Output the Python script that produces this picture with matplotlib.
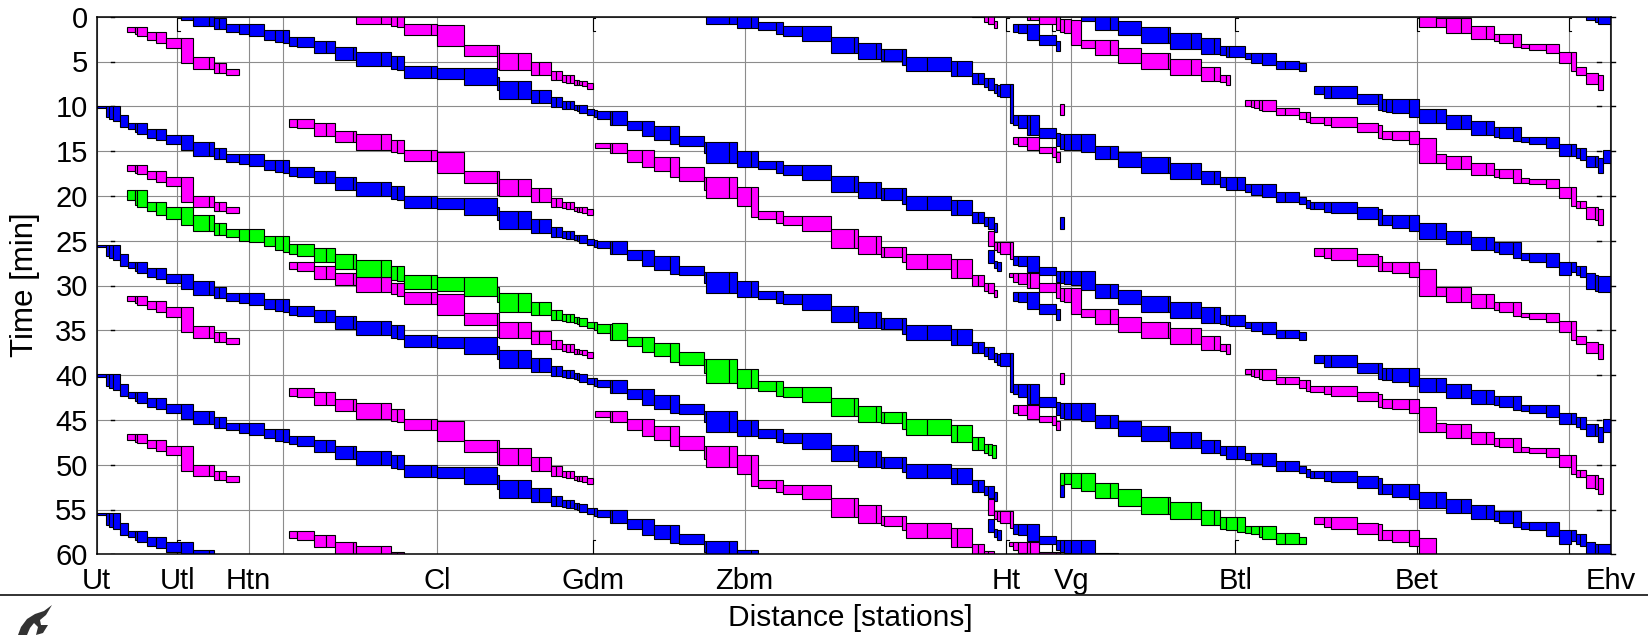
import numpy as np
import matplotlib
matplotlib.use("Agg")
import matplotlib.pyplot as plt
from matplotlib.lines import Line2D
from matplotlib.patches import Polygon

plt.rcParams['font.family'] = ['Liberation Sans', 'DejaVu Sans']

BLUE = '#0000ff'
MAGENTA = '#ff00ff'
GREEN = '#00ff00'

# distance along the line, every block is (right edge, occupied from, occupied until) in minutes
station_names = ['Ut', 'Utl', 'Htn', 'Cl', 'Gdm', 'Zbm', 'Ht', 'Vg', 'Btl', 'Bet', 'Ehv']
station_pos = [0, 80.7, 151.8, 340.4, 496, 647.9, 909.3, 974.6, 1138.6, 1320, 1514.3]
other_lines = [186.4, 955.7, 1472, 1512.9]
time_ticks = [0, 5, 10, 15, 20, 25, 30, 35, 40, 45, 50, 55, 60]

# intercity Ut - Ht - Ehv
ic_blocks = [
    (9.6, 9.93, 10.16), (12.1, 9.93, 11.23), (16.1, 9.93, 11.46), (23.2, 9.93, 11.68),
    (31.1, 11.01, 12.35), (38.2, 11.9, 12.54), (40.7, 11.9, 12.91), (50, 11.9, 13.13),
    (59.6, 12.54, 13.58), (69.3, 12.54, 13.8), (84.6, 13.17, 14.25), (96.1, 13.17, 14.88),
    (111.8, 14.02, 15.51), (117.5, 14.02, 15.51), (121.8, 14.69, 15.92), (128.9, 14.69, 15.92),
    (142.1, 15.33, 16.18), (151.8, 15.33, 16.41), (167.5, 15.33, 16.63), (178.6, 15.96, 17.07),
    (186.4, 15.96, 17.3), (191.8, 15.96, 17.48), (200, 16.81, 17.74), (217.1, 16.81, 17.86),
    (228.9, 17.26, 18.56), (238.6, 17.26, 18.56), (256.1, 17.89, 19.38), (259.6, 17.89, 19.38),
    (284.6, 18.49, 20.05), (293.9, 18.49, 20.05), (300.4, 18.93, 20.39), (307.5, 18.93, 20.46),
    (334.6, 20.05, 21.32), (340.4, 20.05, 21.32), (367.1, 20.27, 21.5), (400.4, 20.27, 22.17),
    (401.8, 21.2, 22.7), (421.1, 21.72, 23.7), (434.6, 21.72, 23.7), (441.8, 22.63, 24.12),
    (453.9, 22.63, 24.12), (459.5, 23.45, 24.61), (465.2, 23.45, 24.61), (468.9, 23.94, 24.75),
    (473.2, 23.94, 24.79), (477.2, 23.94, 24.79), (480.5, 24.31, 24.94), (482.5, 24.31, 25.05),
    (490.2, 24.38, 25.24), (497.2, 24.79, 25.5), (499.9, 24.87, 25.72), (513.2, 25.01, 25.87),
    (515.7, 25.05, 26.54), (530.7, 25.05, 26.54), (545.7, 26.09, 27.17), (557.5, 26.09, 27.84),
    (572.9, 26.73, 28.29), (582.5, 26.73, 28.7), (607.5, 27.77, 28.88), (609.6, 28.47, 29.7),
    (631.8, 28.47, 30.82), (640, 28.47, 30.82), (653.9, 29.52, 31.3), (661.1, 29.52, 31.3),
    (679, 30.56, 31.49), (686.1, 30.56, 31.93), (705.7, 31.0, 32.12), (734.3, 31.0, 32.75),
    (756.8, 32.31, 34.09), (761.1, 32.31, 34.09), (779, 32.94, 34.72), (784.3, 32.94, 34.72),
    (787.5, 33.61, 34.91), (805.7, 33.61, 34.91), (809.6, 33.61, 35.36), (830.7, 34.46, 36.03),
    (853.9, 34.46, 36.03), (859.9, 34.91, 36.66), (874.9, 34.91, 36.66), (881.5, 36.25, 37.55),
    (887.5, 36.25, 37.55), (891.5, 36.88, 37.89), (897.5, 36.88, 38.18), (899.9, 37.51, 38.56),
    (903.2, 37.63, 38.85), (913.2, 37.51, 38.93), (916.5, 37.51, 41.9), (920.9, 40.97, 42.09),
    (930.2, 40.97, 42.39), (933.2, 40.97, 43.2), (942.2, 40.97, 43.2), (958.9, 42.46, 43.58),
    (963.2, 43.0, 44.4), (966.8, 43.13, 44.77), (974.6, 43.13, 44.88), (983.9, 43.13, 44.88),
    (997.9, 43.13, 45.07), (1012.9, 44.43, 45.92), (1021.1, 44.43, 45.92), (1044.3, 45.07, 46.81),
    (1071.1, 45.7, 47.41), (1073.2, 45.7, 47.41), (1093.9, 46.37, 48.12), (1103.9, 46.37, 48.12),
    (1117.1, 47.22, 48.71), (1122.9, 47.22, 48.71), (1129, 47.86, 48.97), (1140.4, 47.86, 49.34),
    (1148.6, 47.86, 49.34), (1153.9, 48.71, 49.53), (1165.4, 48.71, 49.9), (1179.3, 48.71, 50.09),
    (1188.6, 49.6, 50.72), (1202.1, 49.6, 50.72), (1209.6, 50.09, 50.91), (1213.6, 50.46, 51.32),
    (1217.5, 50.65, 51.5), (1226.8, 50.65, 51.5), (1234.6, 50.65, 51.84), (1260, 50.65, 51.95),
    (1281.1, 51.28, 52.62), (1285.4, 51.5, 53.25), (1295, 52.13, 53.25), (1312.1, 52.13, 53.55),
    (1322.1, 52.13, 53.88), (1338.9, 53.06, 54.78), (1348.9, 53.06, 54.78), (1363.9, 53.88, 55.41),
    (1374.3, 53.88, 55.41), (1389, 54.55, 56.04), (1397.1, 54.55, 56.04), (1402.5, 55.18, 56.23),
    (1416.4, 55.18, 56.52), (1424.3, 55.18, 56.9), (1431.8, 56.41, 57.16), (1448.9, 56.41, 57.34),
    (1462.5, 56.41, 57.97), (1474.3, 57.34, 58.83), (1479.6, 57.34, 58.46), (1483.6, 57.79, 58.83),
    (1489.6, 57.79, 59.09), (1498.5, 58.64, 60.39), (1501.4, 58.83, 60.58), (1514.3, 58.9, 60.76),
]

# the green one running Ut - Ht
green_long_blocks = [
    (38.2, 19.34, 20.46), (40.7, 19.34, 21.06), (50, 19.34, 21.28), (59.6, 20.65, 21.72),
    (69.3, 20.65, 22.17), (84.6, 21.28, 22.62), (96.1, 21.28, 23.25), (111.8, 22.13, 23.92),
    (117.5, 22.13, 23.92), (121.8, 23.03, 24.33), (128.9, 23.03, 24.33), (142.1, 23.66, 24.55),
    (151.8, 23.66, 25.0), (167.5, 23.66, 25.18), (178.6, 24.51, 25.63), (186.4, 24.51, 26.08),
    (191.8, 24.51, 26.23), (200, 25.41, 26.49), (217.1, 25.41, 26.71), (228.9, 25.85, 27.34),
    (238.6, 25.85, 27.34), (256.1, 26.49, 28.2), (259.6, 26.49, 28.2), (284.6, 27.12, 29.09),
    (293.9, 27.12, 29.09), (300.4, 27.79, 29.39), (307.5, 27.79, 29.5), (334.6, 28.87, 30.36),
    (340.4, 28.87, 30.36), (367.1, 29.09, 30.58), (400.4, 29.09, 31.17), (401.8, 30.13, 31.8),
    (421.1, 30.8, 32.92), (434.6, 30.8, 32.92), (441.8, 31.88, 33.29), (453.9, 31.88, 33.29),
    (459.5, 32.7, 33.86), (465.2, 32.7, 33.86), (468.9, 33.19, 34.0), (473.2, 33.19, 34.04),
    (477.2, 33.19, 34.04), (480.5, 33.56, 34.19), (482.5, 33.56, 34.3), (490.2, 33.63, 34.49),
    (497.2, 34.04, 34.75), (499.9, 34.12, 34.97), (513.2, 34.3, 35.27), (515.7, 34.3, 36.08),
    (530.7, 34.22, 36.08), (545.7, 35.71, 36.75), (557.5, 35.71, 37.39), (572.9, 36.38, 37.87),
    (582.5, 36.38, 38.5), (607.5, 37.46, 38.87), (609.6, 38.24, 39.8), (631.8, 38.24, 40.84),
    (640, 38.24, 40.84), (653.9, 39.36, 41.48), (661.1, 39.36, 41.48), (679, 40.66, 41.74),
    (686.1, 40.66, 42.34), (705.7, 41.29, 42.41), (734.3, 41.29, 43.04), (756.8, 42.59, 44.53),
    (761.1, 42.59, 44.53), (779, 43.45, 45.2), (784.3, 43.45, 45.2), (787.5, 44.08, 45.38),
    (805.7, 44.08, 45.38), (809.6, 44.08, 46.05), (830.7, 44.94, 46.68), (853.9, 44.94, 46.68),
    (860, 45.57, 47.51), (875, 45.57, 47.51), (881.5, 46.87, 48.36), (887.5, 46.87, 48.36),
    (891.5, 47.73, 48.73), (895.5, 47.73, 48.92), (899.6, 47.8, 49.22),
]

# green Vg - Btl
green_vg_blocks = [
    (974.6, 50.96, 52.15), (983.9, 50.96, 52.64), (997.9, 50.96, 52.9), (1012.9, 52.08, 53.75),
    (1021.1, 52.08, 53.75), (1044.3, 52.71, 54.6), (1071.1, 53.57, 55.5), (1073.2, 53.57, 55.5),
    (1093.9, 54.2, 56.1), (1103.9, 54.2, 56.1), (1117.1, 55.05, 56.72), (1122.9, 55.05, 56.72),
    (1129, 55.87, 57.17), (1140.4, 55.87, 57.28), (1148.6, 55.87, 57.47), (1153.9, 56.8, 57.66),
    (1161.8, 56.8, 57.77), (1165.4, 56.8, 58.03), (1179.3, 56.8, 58.29), (1188.6, 57.66, 58.88),
    (1202.1, 57.66, 58.88), (1209.6, 58.1, 58.88),
]
vg_stub_green = [(966.8, 50.96, 52.3)]

# magenta Ut - Htn
mag_utl_blocks = [
    (38.2, 1.12, 1.75), (40.7, 1.12, 1.97), (50, 1.12, 2.16), (59.6, 1.75, 2.64),
    (69.3, 1.75, 2.98), (84.6, 2.42, 3.46), (96.1, 2.42, 5.21), (111.8, 4.54, 5.84),
    (117.5, 4.54, 5.84), (121.8, 5.21, 6.29), (128.9, 5.21, 6.29), (142.1, 5.84, 6.51),
]

# magenta Cl - Gdm
mag_cl_blocks = [
    (200, 11.46, 12.28), (217.1, 11.46, 12.46), (228.9, 11.9, 13.32), (238.6, 11.9, 13.32),
    (256.1, 12.72, 14.02), (259.6, 12.72, 14.02), (284.6, 13.13, 14.88), (293.9, 13.13, 14.88),
    (300.4, 13.8, 15.1), (307.5, 13.8, 15.25), (334.6, 14.88, 16.14), (340.4, 14.88, 16.14),
    (367.1, 15.07, 17.41), (400.4, 17.22, 18.53), (401.8, 17.22, 19.9), (421.1, 18.12, 20.01),
    (434.6, 18.12, 20.01), (441.9, 19.16, 20.65), (453.9, 19.16, 20.65), (459.5, 20.2, 21.21),
    (465.2, 20.2, 21.21), (468.9, 20.65, 21.39), (473.2, 20.65, 21.47), (477.2, 20.65, 21.47),
    (480.5, 21.21, 21.69), (482.5, 21.21, 21.77), (484.8, 21.28, 21.77), (490.2, 21.28, 21.88),
    (496, 21.47, 22.18),
]

# magenta Gdm - Ht
mag_gdm_blocks = [
    (513.2, 14.06, 14.69), (515.7, 14.06, 15.25), (530.7, 14.06, 15.25), (545.7, 14.88, 16.18),
    (557.5, 14.88, 16.81), (572.9, 15.7, 17.22), (582.5, 15.7, 17.86), (607.5, 16.81, 18.34),
    (609.6, 17.86, 19.34), (631.8, 17.86, 20.27), (640, 17.86, 20.27), (653.9, 18.97, 21.09),
    (661.1, 18.97, 22.39), (679, 21.69, 22.58), (686.1, 21.69, 23.06), (705.7, 22.21, 23.25),
    (734.3, 22.21, 23.88), (756.8, 23.7, 25.85), (761.1, 23.7, 25.85), (779, 24.48, 26.49),
    (784.3, 24.48, 26.49), (787.5, 25.67, 26.78), (805.7, 25.67, 26.86), (809.6, 25.67, 27.34),
    (830.7, 26.49, 28.2), (853.9, 26.49, 28.2), (860, 27.08, 29.2), (875, 27.08, 29.2),
    (881.5, 28.83, 30.05), (887.5, 28.83, 30.05), (891.5, 29.68, 30.58), (897.5, 29.68, 30.8),
    (899.9, 30.5, 31.25),
]

# short pieces around Ht and Vg
mag_ht_blocks = [
    (897.5, 23.88, 25.6), (899.9, 25.19, 26.04), (903.2, 25.19, 26.23), (913.2, 25.19, 26.49),
    (916.5, 25.19, 27.05),
]
blue_ht_blocks = [(897.5, 26.04, 27.53), (899.9, 27.23, 28.09), (904, 27.34, 28.38)]
blue_vg_blocks = [
    (920.9, 30.76, 31.69), (930, 30.76, 31.8), (942.2, 30.76, 32.62), (958.9, 32.07, 33.18),
    (963.2, 32.66, 33.86),
]
mag_vg_blocks = [
    (920.9, 13.39, 14.21), (930.7, 13.39, 14.43), (941.8, 13.39, 14.88), (955, 14.51, 15.25),
    (959.6, 14.51, 15.62), (963.2, 15.07, 16.18),
]
stub_mag = [(966.8, 9.75, 10.97)]
stub_blue = [(966.8, 22.32, 23.64)]

# magenta Ht - Btl
mag_btl_blocks = [
    (916.5, 28.65, 29.09), (920.9, 28.65, 29.57), (930, 28.65, 29.83), (933.2, 28.65, 30.32),
    (942.2, 28.65, 30.32), (958.9, 29.69, 30.77), (963.2, 29.69, 31.45), (966.8, 30.25, 31.75),
    (974.6, 30.25, 31.8), (983.9, 30.32, 33.18), (997.9, 32.6, 33.46), (1012.9, 32.6, 34.32),
    (1021.1, 32.6, 34.32), (1044.3, 33.46, 35.21), (1071.1, 34.09, 35.84), (1073.2, 34.09, 35.84),
    (1093.9, 34.76, 36.51), (1103.9, 34.76, 36.51), (1117.1, 35.62, 37.18), (1122.9, 35.62, 37.18),
    (1129, 36.51, 37.33), (1133, 36.51, 37.59),
]

# blue Ht - past Btl
blue_btl_blocks = [
    (920.9, 26.67, 27.71), (930, 26.67, 27.83), (942.2, 26.67, 28.46), (958.9, 27.97, 28.83),
    (963.2, 28.38, 29.57), (966.8, 28.38, 29.76), (974.6, 28.38, 29.83), (983.9, 28.38, 29.94),
    (997.9, 28.38, 30.5), (1012.9, 29.87, 31.43), (1021.1, 29.87, 31.43), (1044.3, 30.5, 32.07),
    (1071.1, 31.17, 32.92), (1073.2, 31.17, 32.92), (1093.9, 31.81, 33.59), (1103.9, 31.81, 33.59),
    (1117.1, 32.42, 34.13), (1122.9, 32.42, 34.13), (1129, 33.27, 34.28), (1132.5, 33.27, 34.46),
    (1148.6, 33.27, 34.54), (1153.9, 34.09, 34.76), (1165.4, 34.09, 35.13), (1179.3, 34.09, 35.39),
    (1188.6, 34.95, 35.84), (1202.1, 34.95, 35.84), (1209.6, 35.21, 36.03),
]

# Btl - Ehv rows
blue_ehv_blocks = [
    (1226.8, 7.74, 8.63), (1234.6, 7.74, 9.11), (1260, 7.74, 9.11), (1281.1, 8.63, 9.75),
    (1285.4, 8.67, 10.42), (1289, 9.23, 10.53), (1295, 9.23, 10.6), (1312.1, 9.23, 10.79),
    (1322.1, 9.23, 11.23), (1338.9, 10.34, 11.9), (1348.9, 10.34, 11.9), (1363.9, 10.97, 12.5),
    (1374.3, 10.97, 12.5), (1389, 11.61, 13.17), (1397.1, 11.61, 13.17), (1402.5, 12.28, 13.39),
    (1416.4, 12.28, 13.58), (1424.3, 12.28, 13.84), (1431.8, 13.39, 14.02), (1448.9, 13.39, 14.21),
    (1462.5, 13.39, 14.66), (1474.3, 14.25, 15.51), (1479.6, 14.25, 15.51), (1483.6, 14.69, 15.81),
    (1489.6, 14.69, 16.0), (1498.5, 15.51, 16.81), (1501.4, 15.51, 16.81), (1506, 15.74, 17.48),
    (1514.3, 14.88, 16.37),
]
mag_ehv_a_blocks = [
    (1153.9, 9.3, 9.93), (1156.8, 9.3, 10.12), (1161.8, 9.3, 10.23), (1165.4, 9.3, 10.42),
    (1179.3, 9.3, 10.53), (1188.6, 10.16, 11.01), (1202.1, 10.16, 11.01), (1209.6, 10.6, 11.46),
    (1213.6, 10.6, 11.72), (1226.8, 11.23, 11.9), (1234.6, 11.23, 12.09), (1260, 11.23, 12.28),
    (1281.1, 11.9, 12.91), (1285.4, 12.09, 13.58), (1295, 12.72, 13.69), (1312.1, 12.72, 13.76),
    (1322.1, 12.72, 14.21), (1338.9, 13.58, 16.37), (1348.9, 15.33, 16.37), (1363.9, 15.51, 17.0),
    (1374.3, 15.51, 17.0), (1389, 16.37, 17.67), (1397.1, 16.37, 17.67), (1402.5, 17.04, 17.86),
    (1416.4, 17.04, 18.04), (1424.3, 17.04, 18.53), (1431.8, 18.04, 18.53), (1448.9, 18.12, 18.71),
    (1462.5, 18.12, 19.16), (1474.3, 18.97, 20.27), (1479.6, 18.97, 21.09), (1483.6, 20.57, 21.32),
    (1489.6, 20.57, 21.39), (1498.5, 21.2, 22.58), (1501.4, 21.2, 22.69), (1506, 21.5, 23.25),
]
mag_ehv_b_blocks = [
    (1226.8, 25.85, 26.67), (1234.6, 25.85, 26.97), (1260, 25.85, 27.16), (1281.1, 26.49, 27.79),
    (1285.4, 26.67, 28.38), (1295, 27.34, 28.38), (1312.1, 27.34, 28.64), (1322.1, 27.34, 29.09),
    (1338.9, 28.2, 31.17), (1348.9, 30.13, 31.17), (1363.9, 30.13, 31.81), (1374.3, 30.13, 31.81),
    (1389, 30.99, 32.48), (1397.1, 30.99, 32.48), (1402.5, 31.88, 32.74), (1416.4, 31.88, 32.92),
    (1424.3, 31.88, 33.37), (1431.8, 33.05, 33.53), (1448.9, 33.05, 33.72), (1462.5, 33.05, 34.09),
    (1474.3, 33.91, 35.21), (1479.6, 33.91, 36.06), (1489.6, 35.65, 36.51), (1501.4, 36.32, 37.51),
    (1506, 36.51, 38.18),
]

# (start of first block, blocks, minutes added per train, colour)
ic_short_blocks = [b for b in ic_blocks if b[0] <= 899.9]
blue_trains = [
    (0, ic_short_blocks, [15.5, 45.5]),
    (0, ic_blocks, [0, 30]),
    (891.5, blue_ht_blocks, [0, 30]),
    (916.5, blue_vg_blocks, [0, 30]),
    (916.5, blue_btl_blocks, [0, 30]),
    (1217.5, blue_ehv_blocks, [0, 30]),
    (963.2, stub_blue, [0, 30]),
]
magenta_trains = [
    (30.7, mag_utl_blocks, [0, 15.45, 30, 45.45]),
    (191.8, mag_cl_blocks, [0, 15.9, 30, 45.9]),
    (498.2, mag_gdm_blocks, [0, 30]),
    (891.5, mag_ht_blocks, [0, 30]),
    (916.5, mag_vg_blocks, [0, 30]),
    (912.5, mag_btl_blocks, [0, 30]),
    (1148.6, mag_ehv_a_blocks, [0, 30]),
    (1217.5, mag_ehv_b_blocks, [0, 30]),
    (963.2, stub_mag, [0, 30]),
]
green_trains = [
    (30.7, green_long_blocks, [0]),
    (966.8, green_vg_blocks, [0]),
    (963.2, vg_stub_green, [0]),
]


def draw_train(ax, start, blocks, offset, color):
    edges = np.array([start] + [b[0] for b in blocks])
    tops = np.array([b[1] for b in blocks]) + offset
    bottoms = np.array([b[2] for b in blocks]) + offset
    # the timetable repeats every hour so what runs past 60 comes back at the top
    for wrap in (0, -60):
        ax.bar(edges[:-1], bottoms - tops, width=np.diff(edges), bottom=tops + wrap, align='edge',
               color=color, edgecolor='black', linewidth=0.8, zorder=3)


fig = plt.figure(figsize=(16.48, 6.35), dpi=100)
ax = fig.add_axes([96.8 / 1648, 1 - 554.3 / 635, (1611 - 96.8) / 1648, (554.3 - 16.7) / 635])

for start, blocks, offsets in blue_trains:
    for off in offsets:
        draw_train(ax, start, blocks, off, BLUE)
for start, blocks, offsets in magenta_trains:
    for off in offsets:
        draw_train(ax, start, blocks, off, MAGENTA)
for start, blocks, offsets in green_trains:
    for off in offsets:
        draw_train(ax, start, blocks, off, GREEN)

ax.set_xlim(0, 1514.3)
ax.set_ylim(60, 0)
ax.set_yticks(time_ticks)
ax.set_xticks(station_pos)
ax.set_xticklabels(station_names)
ax.tick_params(axis='both', length=0, labelsize=21)
ax.tick_params(axis='x', pad=9)
ax.tick_params(axis='y', pad=6.5)

grey = '#8c8c8c'
ax.set_axisbelow(True)
ax.grid(True, color=grey, linewidth=0.8)
ax.vlines(other_lines, 0, 60, color=grey, linewidth=0.8, zorder=1)
for s in ax.spines.values():
    s.set_linewidth(1.1)
    s.set_zorder(5)

# the little hooks the plotting tool left at the station lines and the time ticks
for d in [80.7, 496, 909.3, 955.7, 1138.6, 1320, 1472]:
    ax.plot([d + 2.5, d, d, d + 2.5], [0.2, 0.2, 1.65, 1.65], color='black', lw=0.8, zorder=2)
    ax.plot([d + 2.5, d, d], [58.4, 58.4, 60], color='black', lw=0.8, zorder=2)
for t in time_ticks:
    ax.plot([14, 17], [t, t], color='black', lw=1.0, zorder=2)
    ax.plot([1500, 1504], [t, t], color='black', lw=1.0, zorder=2)
    ax.plot([1514.3, 1518], [t, t], color='black', lw=1.0, zorder=2, clip_on=False)

ax.set_ylabel('Time [min]', fontsize=22.5, va='center')
ax.yaxis.set_label_coords((25 - 96.8) / (1611 - 96.8), 1 - (285 - 16.7) / (554.3 - 16.7))

fig.text(850 / 1648, 1 - 618 / 635, 'Distance [stations]', fontsize=21.5, ha='center', va='center')
fig.add_artist(Line2D([0, 1], [1 - 594.5 / 635] * 2, color='#222222', lw=1.3))

# flame logo bottom left
flame = [(52, 605), (44, 611), (35, 614), (27, 619), (21, 627), (18, 635), (27, 635), (30, 628),
         (34, 623), (38, 627), (36, 635), (43, 633), (48, 625), (41, 625), (40, 620), (46, 615)]
fig.add_artist(Polygon([(x / 1648, 1 - y / 635) for x, y in flame], closed=True,
                       transform=fig.transFigure, color='#333333', lw=0))

fig.savefig('out.png', dpi=100)
